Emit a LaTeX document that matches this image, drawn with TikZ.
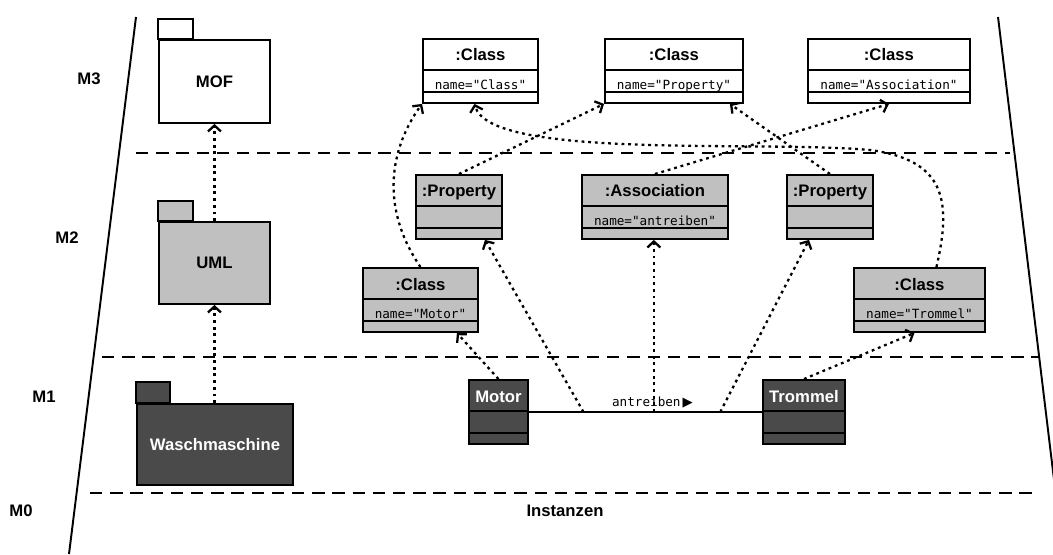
\documentclass[tikz,border=0pt]{standalone}
\usepackage{fontspec}
\setmainfont{Liberation Sans}
\newfontfamily\monofont{DejaVu Sans Mono}
\newfontfamily\symfont{DejaVu Sans}
\usetikzlibrary{arrows.meta}

\definecolor{umllight}{HTML}{C0C0C0}
\definecolor{umldark}{HTML}{4A4A4A}

% object box: style, name, top left corner, width, title, attribute, title colour
\newcommand{\umlobj}[7]{%
  \node[objbox, #1, minimum width=#4, anchor=north west] (#2) at #3 {};
  \draw[boxline] ([yshift=-0.64cm]#2.north west) -- ([yshift=-0.64cm]#2.north east);
  \draw[boxline] ([yshift=-1.08cm]#2.north west) -- ([yshift=-1.08cm]#2.north east);
  \node[objtitle, text=#7] at ([yshift=-0.46cm]#2.north) {#5};
  \node[objattr] at ([yshift=-1.04cm]#2.north) {#6};
}

\begin{document}
\begin{tikzpicture}[
x=0.02cm, y=-0.02cm,
boxline/.style={line width=1.1pt},
objbox/.style={draw, line width=1.1pt, minimum height=1.28cm, inner sep=0pt},
objtitle/.style={font=\bfseries\fontsize{9.5}{11}\selectfont, anchor=base, inner sep=0pt},
objattr/.style={font=\monofont\fontsize{7.2}{9}\selectfont, anchor=base, inner sep=0pt},
pkg/.style={draw, line width=1.1pt, inner sep=0pt, anchor=north west, font=\bfseries\fontsize{9.5}{11}\selectfont},
level/.style={font=\bfseries\fontsize{9.5}{11}\selectfont},
sep/.style={line width=1.1pt, dash pattern=on 7pt off 4.5pt},
inst/.style={line width=1.3pt, dash pattern=on 1.6pt off 2.2pt, -{Straight Barb[length=1.2mm, width=2.6mm]}}
]
\useasboundingbox (0,0) rectangle (1053,554);

% level borders and separators
\draw[boxline] (136,17) -- (69,554);
\draw[boxline] (998,17) -- (1063,554);
\draw[sep] (136,153) -- (1010,153);
\draw[sep] (102,357) -- (1040,357);
\draw[sep] (90,493) -- (1032,493);

\node[level] (m3) at (89,79) {M3};
\node[level] (m2) at (67,238) {M2};
\node[level] (m1) at (44,397) {M1};
\node[level] (m0) at (21,511) {M0};
\node[level] (inst) at (565,511) {Instanzen};

% packages
\node[pkg, fill=white, minimum width=2.22cm, minimum height=1.66cm] (mof) at (158,39) {MOF};
\draw[boxline, fill=white] (mof.north west) rectangle ++(35,-20);
\node[pkg, fill=umllight, minimum width=2.22cm, minimum height=1.64cm] (uml) at (158,221) {UML};
\draw[boxline, fill=umllight] (uml.north west) rectangle ++(35,-20);
\node[pkg, fill=umldark, text=white, minimum width=3.12cm, minimum height=1.62cm] (wasch) at (136,403) {Waschmaschine};
\draw[boxline, fill=umldark] (wasch.north west) rectangle ++(34,-21);

% M3
\umlobj{fill=white}{c1}{(422,38)}{2.3cm}{:Class}{name="Class"}{black}
\umlobj{fill=white}{c2}{(604,38)}{2.76cm}{:Class}{name="Property"}{black}
\umlobj{fill=white}{c3}{(807,38)}{3.24cm}{:Class}{name="Association"}{black}

% M2
\umlobj{fill=umllight}{p1}{(415,174)}{1.72cm}{:Property}{}{black}
\umlobj{fill=umllight}{assoc}{(581,174)}{2.92cm}{:Association}{name="antreiben"}{black}
\umlobj{fill=umllight}{p2}{(786,174)}{1.72cm}{:Property}{}{black}
\umlobj{fill=umllight}{clsmotor}{(362,267)}{2.3cm}{:Class}{name="Motor"}{black}
\umlobj{fill=umllight}{clstrommel}{(853,267)}{2.62cm}{:Class}{name="Trommel"}{black}

% M1
\umlobj{fill=umldark}{motor}{(468,379)}{1.18cm}{Motor}{}{white}
\umlobj{fill=umldark}{trommel}{(762,379)}{1.64cm}{Trommel}{}{white}

\draw[boxline] (motor.east) -- coordinate[pos=0.234] (lp) coordinate[pos=0.536] (lm)
  coordinate[pos=0.821] (lq)
  node[pos=0.53, above=1.5pt, inner sep=0pt, font=\monofont\fontsize{7.2}{9}\selectfont]
  {antreiben\,{\symfont\fontsize{7.5}{8}\selectfont ▶}} (trommel.west);

% instance-of
\draw[inst] (uml.north) -- (mof.south);
\draw[inst] (wasch.north -| uml.south) -- (uml.south);
\draw[inst] (motor.north) -- ([xshift=-0.44cm]clsmotor.south east);
\draw[inst] (clsmotor.north) to[bend left=35] (c1.south west);
\draw[inst] (lp) -- ([xshift=0.52cm]p1.south);
\draw[inst] (lm) -- (lm |- assoc.south);
\draw[inst] (lq) -- ([xshift=-0.42cm]p2.south);
\draw[inst] (trommel.north) -- ([xshift=-0.1cm]clstrommel.south);
\draw[inst] (p1.north) -- (c2.south west);
\draw[inst] (p2.north) -- ([xshift=-0.28cm]c2.south east);
\draw[inst] (assoc.north) -- (c3.south);
\draw[inst] ([xshift=0.34cm]clstrommel.north) .. controls (952,200) and (945,160) .. (870,150)
  .. controls (760,140) and (490,160) .. ([xshift=-0.12cm]c1.south);
\end{tikzpicture}
\end{document}
